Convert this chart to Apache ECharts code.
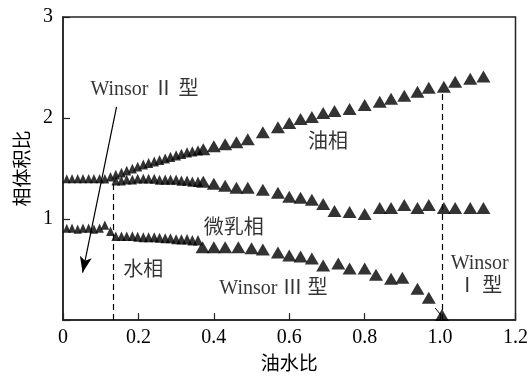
<!DOCTYPE html>
<html>
<head>
<meta charset="utf-8">
<script src="https://cdn.jsdelivr.net/npm/echarts@6/dist/echarts.min.js"></script>
<style>
html,body{margin:0;padding:0;background:#fff;}
#c{width:531px;height:377px;}
</style>
</head>
<body>
<div id="c"></div>
<script>
// ---- data ----
const xTickLabels = ['0','0.2','0.4','0.6','0.8','1.0','1.2'];
const yTickLabels = ['','1','2','3'];

const oilX = [0.010,0.024,0.039,0.053,0.068,0.082,0.097,0.111,0.126,0.140,0.155,0.169,0.184,0.198,0.213,0.227,0.242,0.256,0.271,0.285,0.300,0.314,0.329,0.343,0.358,
  0.372,0.40,0.43,0.46,0.49,0.53,0.57,0.60,0.63,0.66,0.69,0.72,0.76,0.80,0.84,0.87,0.905,0.94,0.97,1.01,1.04,1.08,1.115];
const oilY = [1.40,1.40,1.40,1.40,1.40,1.40,1.40,1.40,1.42,1.44,1.46,1.48,1.50,1.52,1.54,1.555,1.57,1.585,1.60,1.615,1.63,1.645,1.66,1.67,1.68,
  1.69,1.72,1.74,1.76,1.79,1.86,1.91,1.95,1.99,2.01,2.05,2.07,2.09,2.13,2.16,2.19,2.22,2.26,2.30,2.31,2.36,2.39,2.41];

const microX = [0.140,0.155,0.169,0.184,0.198,0.213,0.227,0.242,0.256,0.271,0.285,0.300,0.314,0.329,0.343,0.358,
  0.372,0.40,0.43,0.46,0.49,0.53,0.57,0.60,0.63,0.66,0.69,0.72,0.76,0.80,0.84,0.87,0.905,0.94,0.97,1.01,1.04,1.08,1.115];
const microY = [1.38,1.38,1.39,1.39,1.40,1.40,1.40,1.40,1.39,1.39,1.39,1.39,1.38,1.38,1.37,1.37,
  1.37,1.35,1.33,1.31,1.31,1.29,1.26,1.22,1.21,1.19,1.15,1.08,1.07,1.05,1.11,1.11,1.14,1.11,1.14,1.11,1.11,1.11,1.11];

const waterX = [0.010,0.024,0.039,0.053,0.068,0.082,0.097,0.111,0.126,0.140,0.155,0.169,0.184,0.198,0.213,0.227,0.242,0.256,0.271,0.285,0.300,0.314,0.329,0.343,0.358,
  0.37,0.40,0.43,0.465,0.50,0.53,0.57,0.60,0.63,0.66,0.69,0.73,0.76,0.80,0.83,0.87,0.90,0.94,0.97,1.005];
const waterY = [0.91,0.91,0.90,0.91,0.91,0.90,0.91,0.94,0.88,0.83,0.83,0.83,0.83,0.825,0.82,0.82,0.82,0.815,0.81,0.81,0.80,0.80,0.80,0.79,0.79,
  0.72,0.72,0.72,0.72,0.71,0.70,0.67,0.64,0.63,0.61,0.54,0.56,0.51,0.51,0.45,0.41,0.42,0.31,0.22,0.05];

const labelTexts = ['Winsor Ⅱ 型','油相','微乳相','水相','Winsor Ⅲ 型','Winsor\nⅠ 型'];
const labelX = [0.216,0.703,0.453,0.213,0.558,1.105];
const labelY = [2.28,1.757,0.90,0.49,0.306,0.44];

const dashX = [0.132,1.005];
const dashTop = [1.35,2.26];

// ---- chart ----
const serif = "'Liberation Serif','Noto Sans CJK SC',serif";
const zip = (xs, ys) => xs.map((x, i) => [x, ys[i]]);
const sizeFn = v => v[0] < 0.365 ? [8 + 6 * v[0], 9 + 4 * v[0]] : [14, 12];

const chart = echarts.init(document.getElementById('c'), null, {renderer: 'canvas'});
const tri = (name, data) => ({
  name, type: 'scatter', data, symbol: 'triangle', symbolSize: sizeFn,
  itemStyle: {color: '#000'}, animation: false, silent: true, z: 3
});

chart.setOption({
  animation: false,
  grid: {left: 63, right: 13, top: 17, bottom: 56, show: true, borderColor: '#222', borderWidth: 1.5, backgroundColor: 'transparent'},
  xAxis: {
    type: 'value', min: 0, max: 1.2, interval: 0.2,
    name: '油水比', nameLocation: 'middle', nameGap: 31,
    nameTextStyle: {fontFamily: "'Noto Sans CJK SC'", fontSize: 19, color: '#000'},
    axisLine: {show: true, lineStyle: {color: '#222', width: 1.5}},
    axisTick: {show: true, inside: true, length: 7, lineStyle: {color: '#222', width: 1.2}},
    axisLabel: {fontFamily: serif, fontSize: 20, color: '#000', margin: 8,
      formatter: v => xTickLabels[Math.round(v / 0.2)]},
    splitLine: {show: false}
  },
  yAxis: {
    type: 'value', min: 0, max: 3, interval: 1,
    name: '相体积比', nameLocation: 'middle', nameGap: 32, nameRotate: 90,
    nameTextStyle: {fontFamily: "'Noto Sans CJK SC'", fontSize: 19, color: '#000'},
    axisLine: {show: true, lineStyle: {color: '#222', width: 1.5}},
    axisTick: {show: true, inside: true, length: 7, lineStyle: {color: '#222', width: 1.2}},
    axisLabel: {fontFamily: serif, fontSize: 20, color: '#000', margin: 10,
      formatter: v => yTickLabels[Math.round(v)]},
    splitLine: {show: false}
  },
  series: [
    tri('油相', zip(oilX, oilY)),
    tri('微乳相', zip(microX, microY)),
    tri('水相', zip(waterX, waterY)),
    {
      type: 'scatter', name: 'labels', silent: true, animation: false, z: 5,
      symbolSize: 0,
      data: labelTexts.map((t, i) => ({name: t, value: [labelX[i], labelY[i]]})),
      label: {show: true, position: 'inside', formatter: p => p.name,
        fontFamily: serif, fontSize: 20, lineHeight: 23, color: '#000', align: 'center'},
      markLine: {
        silent: true, animation: false, symbol: ['none', 'none'],
        label: {show: false},
        lineStyle: {color: '#000', width: 1.2, type: [6, 4]},
        data: [
          ...dashX.map((x, i) => [{coord: [x, 0]}, {coord: [x, dashTop[i]]}]),
          [{coord: [0.142, 2.11], symbol: 'none', lineStyle: {type: 'solid', width: 1.2}},
           {coord: [0.052, 0.47], symbol: 'arrow', symbolSize: [9, 16]}],
          [{coord: [0.987, 0.12], symbol: 'none', lineStyle: {type: 'solid', width: 1}},
           {coord: [1.002, 0.05], symbol: 'none'}]
        ]
      }
    }
  ]
});
</script>
</body>
</html>
